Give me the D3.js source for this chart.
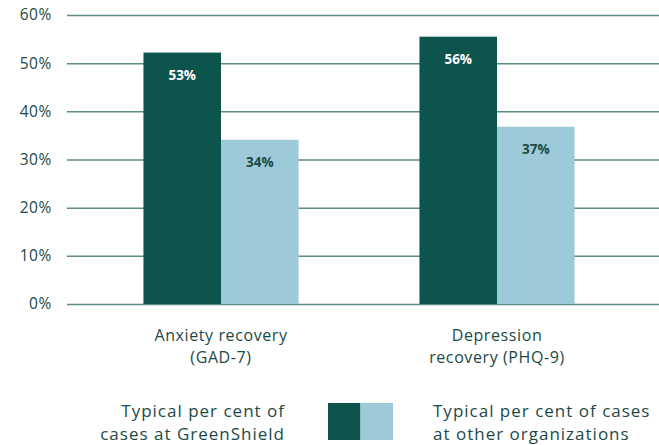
<!DOCTYPE html>
<html>
<head>
<meta charset="utf-8">
<script src="https://cdn.jsdelivr.net/npm/d3@7"></script>
<style>
  body { margin: 0; background: #fff; }
  svg { display: block; font-family: "Open Sans", sans-serif; }
</style>
</head>
<body>
<svg id="chart" width="659" height="445"></svg>
<script>
const categories = [["Anxiety recovery", "(GAD-7)"], ["Depression", "recovery (PHQ-9)"]];
const seriesNames = ["GreenShield", "Other"];
const greenShieldValues = [52.2, 55.5];
const otherValues = [34.1, 36.8];
const greenShieldLabels = ["53%", "56%"];
const otherLabels = ["34%", "37%"];
const yTicks = [0, 10, 20, 30, 40, 50, 60];
const legendLeft = ["Typical per cent of", "cases at GreenShield"];
const legendRight = ["Typical per cent of cases", "at other organizations"];

const colors = { GreenShield: "#0d544d", Other: "#9ccad8" };
const textColor = "#1b4a46";

const svg = d3.select("#chart");
const margin = { top: 15, left: 67, right: 0, bottom: 141 };
const width = +svg.attr("width"), height = +svg.attr("height");

//rows for the groups
const rows = categories.map((c, i) => ({
  cat: i,
  vals: [
    { key: "GreenShield", v: greenShieldValues[i], label: greenShieldLabels[i] },
    { key: "Other", v: otherValues[i], label: otherLabels[i] }
  ]
}));

const x0 = d3.scaleBand()
  .domain(rows.map(d => d.cat))
  .range([83, 635])
  .paddingInner(0.438)
  .paddingOuter(0.219);

const x1 = d3.scaleBand()
  .domain(seriesNames)
  .range([0, x0.bandwidth()]);

const y = d3.scaleLinear()
  .domain([0, 60])
  .range([height - margin.bottom, margin.top]);

//grid
const yAxis = svg.append("g")
  .attr("transform", `translate(${margin.left},0)`)
  .call(d3.axisLeft(y).tickValues(yTicks).tickFormat(d => d + "%")
    .tickSize(-(width - margin.left)).tickPadding(15));
yAxis.select(".domain").remove();
yAxis.selectAll(".tick line").attr("stroke", "#5c8c87").attr("stroke-width", 1.5);
yAxis.selectAll(".tick text")
  .attr("fill", textColor)
  .attr("font-size", 15.5)
  .attr("letter-spacing", 0.6)
  .attr("font-family", "'Open Sans', sans-serif");

//bars
const groups = svg.selectAll(".grp")
  .data(rows)
  .join("g")
  .attr("transform", d => `translate(${x0(d.cat)},0)`);

groups.selectAll("rect")
  .data(d => d.vals)
  .join("rect")
  .attr("x", d => x1(d.key))
  .attr("width", x1.bandwidth())
  .attr("y", d => y(d.v))
  .attr("height", d => y(0) - y(d.v))
  .attr("fill", d => colors[d.key]);

groups.selectAll(".val")
  .data(d => d.vals)
  .join("text")
  .attr("x", d => x1(d.key) + x1.bandwidth() / 2)
  .attr("y", d => y(d.v) + 27)
  .attr("text-anchor", "middle")
  .attr("font-size", 13.5)
  .attr("font-weight", "bold")
  .attr("fill", d => d.key === "GreenShield" ? "#fff" : textColor)
  .text(d => d.label);

//category labels
const catText = svg.selectAll(".cat")
  .data(rows)
  .join("text")
  .attr("text-anchor", "middle")
  .attr("fill", textColor)
  .attr("font-size", 16)
  .attr("letter-spacing", 0.6)
  .attr("x", d => x0(d.cat) + x0.bandwidth() / 2)
  .attr("y", 341);
catText.selectAll("tspan")
  .data(d => categories[d.cat])
  .join("tspan")
  .attr("x", function() { return d3.select(this.parentNode).attr("x"); })
  .attr("dy", (d, i) => i ? 22 : 0)
  .text(d => d);

//legend
const legend = svg.append("g");
legend.selectAll("rect")
  .data(seriesNames)
  .join("rect")
  .attr("x", (d, i) => 328 + i * 32.5)
  .attr("y", 403)
  .attr("width", 32.5)
  .attr("height", 37)
  .attr("fill", d => colors[d]);

legend.append("text")
  .attr("text-anchor", "end")
  .attr("fill", textColor)
  .attr("font-size", 17)
  .attr("letter-spacing", 1.0)
  .selectAll("tspan")
  .data(legendLeft)
  .join("tspan")
  .attr("x", 285)
  .attr("y", (d, i) => 417 + i * 23)
  .text(d => d);

legend.append("text")
  .attr("text-anchor", "start")
  .attr("fill", textColor)
  .attr("font-size", 17)
  .attr("letter-spacing", 1.0)
  .selectAll("tspan")
  .data(legendRight)
  .join("tspan")
  .attr("x", 433)
  .attr("y", (d, i) => 417 + i * 23)
  .text(d => d);
</script>
</body>
</html>
